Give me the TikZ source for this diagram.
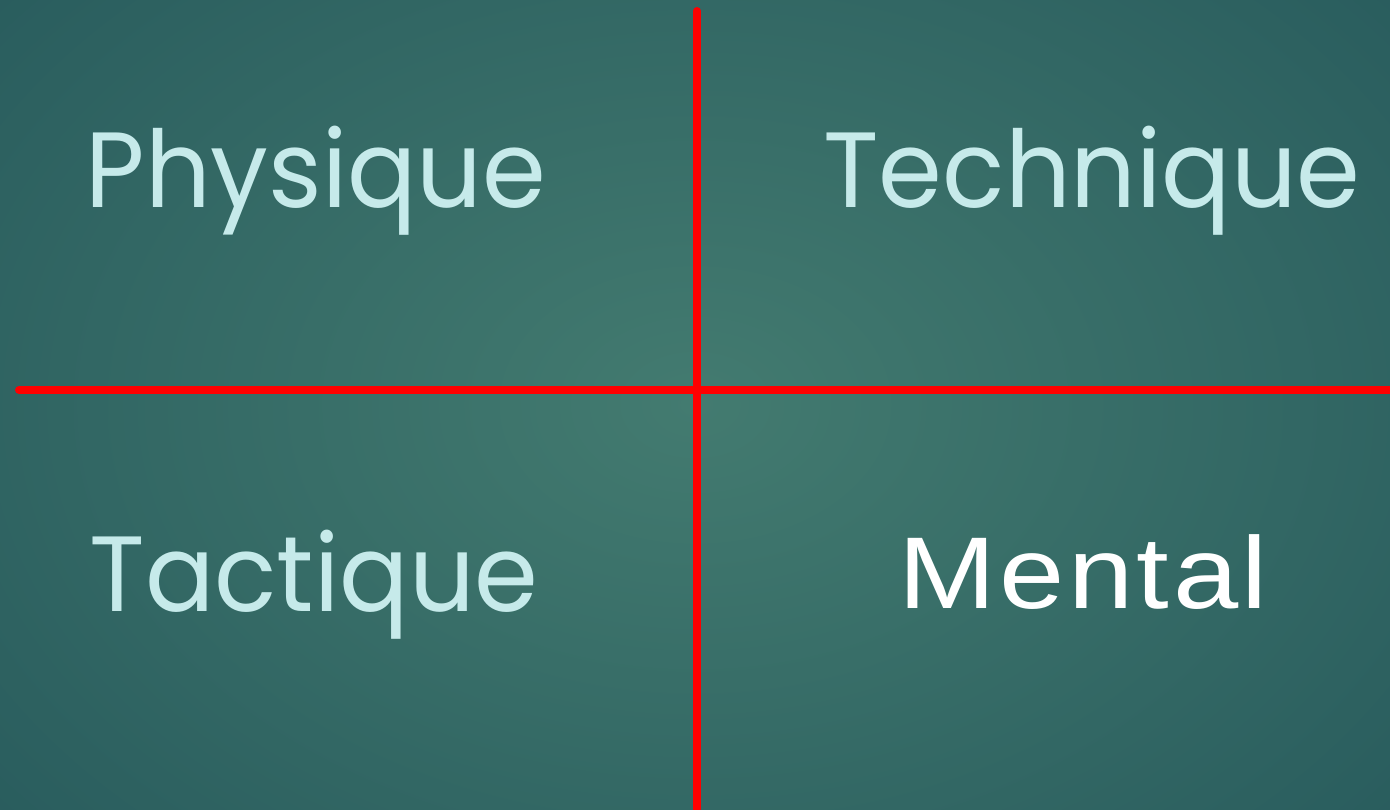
\documentclass[tikz,border=0pt]{standalone}
\usepackage{fontspec}
\setmainfont{Poppins}
\newfontfamily\arialfont[LetterSpace=3]{Liberation Sans}
\definecolor{bgin}{HTML}{437B70}
\definecolor{bgout}{HTML}{275A5C}
\definecolor{txtcyan}{HTML}{C6EAEA}
\definecolor{redline}{HTML}{FF0000}
\tikzset{
  divider/.style={draw=redline, line width=8pt, line cap=round},
  quadlabel/.style={text=txtcyan, font=\fontsize{107}{120}\selectfont, inner sep=0pt, anchor=base, xscale=0.96},
  mentallabel/.style={text=white, font=\arialfont\fontsize{102}{120}\selectfont, inner sep=0pt, anchor=base, xscale=1.15}
}
\begin{document}
\begin{tikzpicture}[x=1pt,y=-1pt]
\useasboundingbox (0,0) rectangle (1390,809);
\shade[inner color=bgin, outer color=bgout] (-300,-300) rectangle (1690,1109);
\coordinate (vtop) at (697,11);
\coordinate (vbot) at (697,809);
\coordinate (hleft) at (19,390);
\coordinate (hright) at (1390,390);
\draw[divider] (vtop) -- (vbot);
\draw[divider] (hleft) -- (hright);
\node[quadlabel] (phys) at (316,207) {Physique};
\node[quadlabel] (tech) at (1092,207) {Technique};
\node[quadlabel] (tact) at (314,611) {Tactique};
\node[mentallabel] (ment) at (1083,608) {Mental};
\end{tikzpicture}
\end{document}
